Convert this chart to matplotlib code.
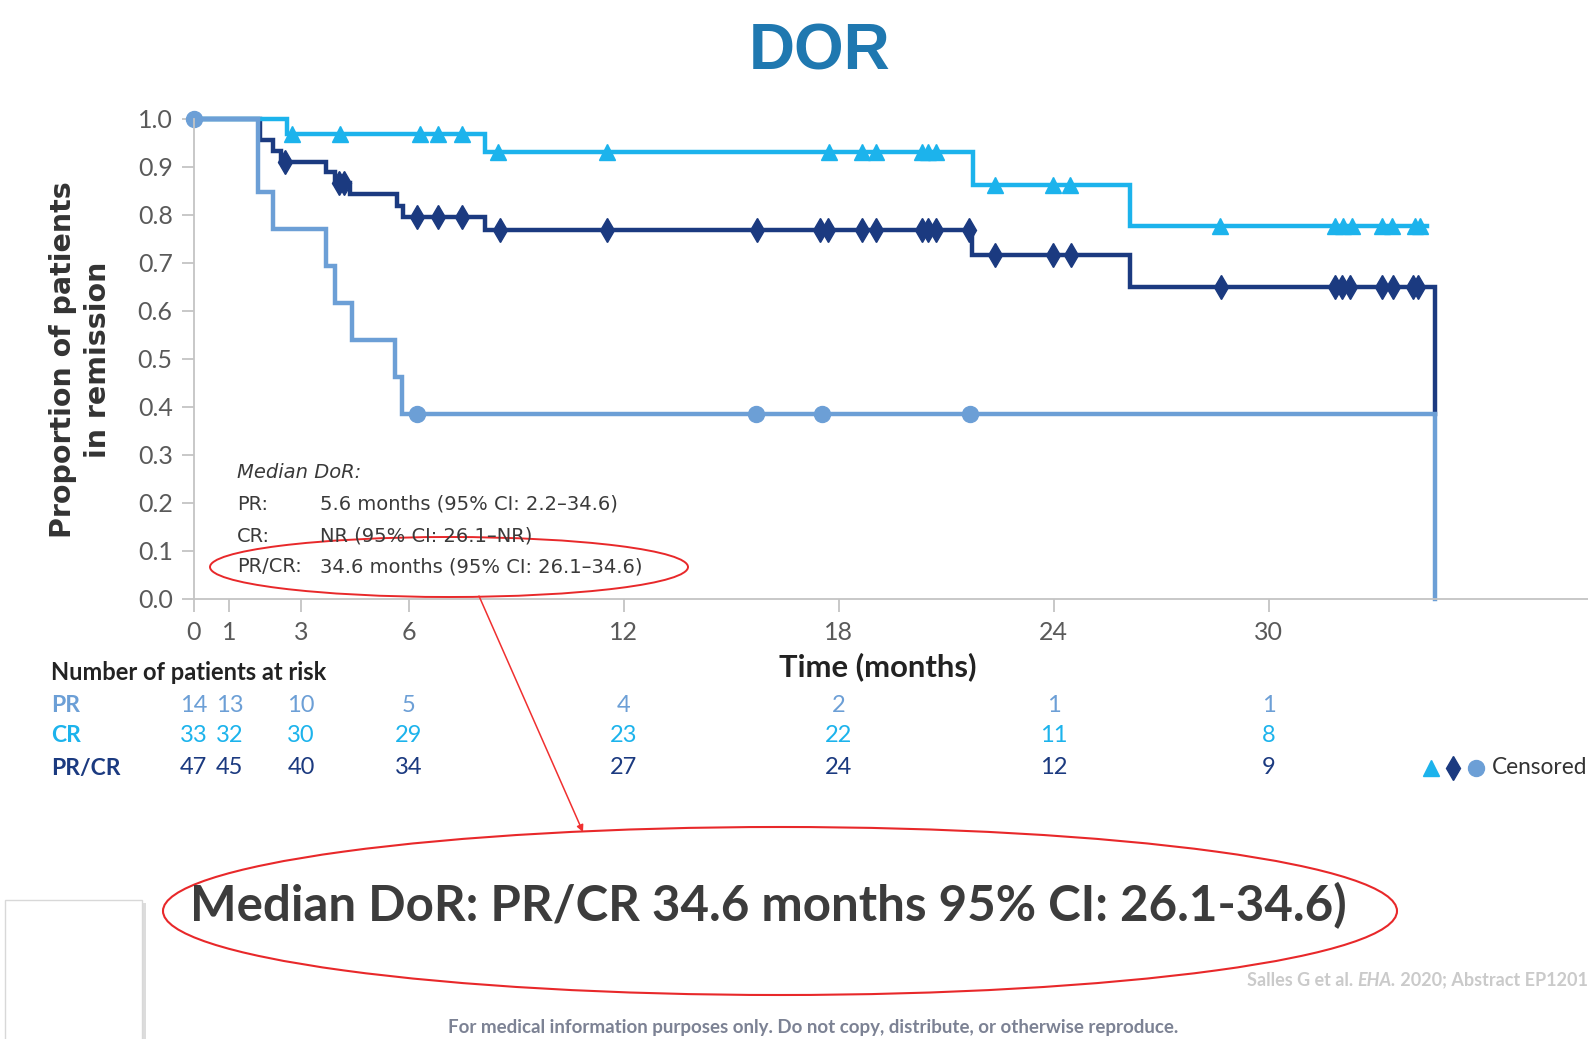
import numpy as np
import matplotlib
matplotlib.use('Agg')
import matplotlib.pyplot as plt
from matplotlib import transforms
from matplotlib.patches import Ellipse, Rectangle

# ---- data (months, proportion in remission) ----
pr_times = [0, 1.81, 2.23, 3.71, 3.95, 4.41, 5.62, 5.81, 34.63]
pr_surv = [1.0, 0.846, 0.769, 0.692, 0.615, 0.538, 0.462, 0.385, 0.0]
pr_end = 34.63
pr_censor = [0, 6.23, 15.7, 17.54, 21.67]

cr_times = [0, 2.62, 8.13, 21.75, 26.12]
cr_surv = [1.0, 0.967, 0.931, 0.861, 0.776]
cr_end = 34.4
cr_censor = [2.74, 4.09, 6.32, 6.83, 7.48, 8.5, 11.53, 17.73, 18.64, 19.03,
             20.31, 20.5, 20.7, 22.36, 23.97, 24.45, 28.63, 31.84, 32.07,
             32.31, 33.14, 33.42, 34.07, 34.21]

all_times = [0, 1.85, 2.23, 2.45, 3.71, 3.95, 4.37, 5.67, 5.85, 8.13, 21.73,
             26.12, 34.63]
all_surv = [1.0, 0.955, 0.932, 0.910, 0.888, 0.865, 0.842, 0.818, 0.795,
            0.768, 0.716, 0.650, 0.385]
all_end = 34.63
all_censor = [2.55, 4.05, 4.2, 6.23, 6.83, 7.48, 8.55, 11.53, 15.71, 17.48,
              17.71, 18.64, 19.03, 20.31, 20.5, 20.7, 21.64, 22.36, 23.97,
              24.47, 28.65, 31.84, 32.03, 32.26, 33.14, 33.47, 34.03, 34.17]

tick_months = [0, 1, 3, 6, 12, 18, 24, 30]
y_ticks = [0.0, 0.1, 0.2, 0.3, 0.4, 0.5, 0.6, 0.7, 0.8, 0.9, 1.0]
risk_labels = ['PR', 'CR', 'PR/CR']
risk_pr = [14, 13, 10, 5, 4, 2, 1, 1]
risk_cr = [33, 32, 30, 29, 23, 22, 11, 8]
risk_all = [47, 45, 40, 34, 27, 24, 12, 9]

C_PR = '#6c9fd6'
C_CR = '#1cb3ec'
C_ALL = '#1b3a80'
GREY_TXT = '#3a3a3a'
NARROW = 'Lato'
plt.rcParams['font.family'] = ['DejaVu Sans']


def step_at(times, surv, t):
    i = np.searchsorted(times, t, side='right') - 1
    return surv[i]


W, H = 1588, 1039
fig = plt.figure(figsize=(W / 100, H / 100), dpi=100)
ax = fig.add_axes([193.5 / W, 1 - 598.5 / H, (W - 193.5) / W, 480 / H])
ax.set_xlim(0, 38.9)
ax.set_ylim(0, 1.0)

curves = [
    (all_times, all_surv, all_end, all_censor, C_ALL, 'd', 12),
    (cr_times, cr_surv, cr_end, cr_censor, C_CR, '^', 11),
    (pr_times, pr_surv, pr_end, pr_censor, C_PR, 'o', 11.5),
]
for times, surv, end, cens, col, mk, ms in curves:
    xs = list(times) + [end]
    ys = list(surv) + [surv[-1]]
    ax.plot(xs, ys, drawstyle='steps-post', color=col, lw=3.2, clip_on=False,
            solid_joinstyle='miter')
    cy = [step_at(times, surv, c) for c in cens]
    ax.plot(cens, cy, ls='none', marker=mk, ms=ms, color=col, mec=col,
            clip_on=False)

for s in ['top', 'right']:
    ax.spines[s].set_visible(False)
for s in ['left', 'bottom']:
    ax.spines[s].set_color('#c4c4c4')
    ax.spines[s].set_linewidth(1.3)
ax.set_xticks(tick_months)
ax.set_yticks(y_ticks)
ax.set_yticklabels([f'{v:.1f}' for v in y_ticks])
ax.tick_params(axis='both', colors='#c4c4c4', labelcolor='#5a5a5a',
               labelsize=18, length=9, width=1.3)
ax.tick_params(axis='x', pad=7)
ax.tick_params(axis='y', pad=6)
for lab in ax.get_xticklabels() + ax.get_yticklabels():
    lab.set_family(NARROW)

# overlay in pixel coordinates (y downwards)
ov = fig.add_axes([0, 0, 1, 1])
ov.set_xlim(0, W)
ov.set_ylim(H, 0)
ov.axis('off')
ov.patch.set_alpha(0)

fig.text(820 / W, 1 - 52 / H, 'DOR', ha='center', va='center', fontsize=46,
         fontweight='bold', color='#1f78b0', family='Liberation Sans')

ov.text(63, 360, 'Proportion of patients', rotation=90, ha='center',
        va='center', fontsize=20.5, fontweight='bold', color='#333333')
ov.text(98, 360, 'in remission', rotation=90, ha='center', va='center',
        fontsize=20.5, fontweight='bold', color='#333333')
ov.text(878, 667, 'Time (months)', ha='center', va='center', fontsize=22.3,
        color='#222222', family=NARROW, fontweight='bold')

# median block
med_y = [473, 504, 536, 567]
ov.text(237, med_y[0], 'Median DoR:', style='italic', fontsize=14,
        color=GREY_TXT, va='center')
for lab, val, y in zip(['PR:', 'CR:', 'PR/CR:'],
                       ['5.6 months (95% CI: 2.2\u201334.6)',
                        'NR (95% CI: 26.1\u2013NR)',
                        '34.6 months (95% CI: 26.1\u201334.6)'], med_y[1:]):
    ov.text(237, y, lab, fontsize=14, color=GREY_TXT, va='center')
    ov.text(320, y, val, fontsize=14, color=GREY_TXT, va='center')

ov.add_patch(Ellipse((449, 567), 478, 60, fill=False, ec='#e8282a', lw=1.4))
ov.annotate('', xy=(583, 832), xytext=(479, 596),
            arrowprops=dict(arrowstyle='-|>', color='#f03030', lw=1.1,
                            mutation_scale=10, shrinkA=0, shrinkB=0))

# risk table
trans = transforms.blended_transform_factory(ax.transData, ov.transData)
ov.text(51, 673, 'Number of patients at risk', ha='left', va='center',
        fontsize=17, fontweight='bold', color='#222222', family=NARROW)
for lab, vals, col, y in zip(risk_labels, [risk_pr, risk_cr, risk_all],
                             [C_PR, C_CR, C_ALL], [705, 736, 768]):
    ov.text(51, y, lab, ha='left', va='center', fontsize=16.5, color=col,
            family=NARROW, fontweight='bold')
    for m, v in zip(tick_months, vals):
        ov.text(m, y, str(v), transform=trans, ha='center', va='center',
                fontsize=17, color=col, family=NARROW)

# censored key
for x, mk, col, ms in [(1431, '^', C_CR, 11), (1453, 'd', C_ALL, 12),
                       (1476, 'o', C_PR, 11.5)]:
    ov.plot([x], [768], marker=mk, color=col, ms=ms, ls='none')
ov.text(1492, 768, 'Censored', ha='left', va='center', fontsize=16.3,
        color='#333333', family=NARROW)

# zoomed callout
ov.add_patch(Ellipse((780, 911), 1234, 168, fill=False, ec='#e8282a', lw=1.5))
ov.text(768, 906, 'Median DoR: PR/CR 34.6 months 95% CI: 26.1-34.6)',
        ha='center', va='center', fontsize=35.5, fontweight='bold',
        color='#3c3c3c', family=NARROW)

# blank card bottom-left
ov.add_patch(Rectangle((8, 903), 138, 150, fc='#bbbbbb', ec='none', alpha=0.5))
ov.add_patch(Rectangle((5, 900), 137, 150, fc='white', ec='#d8d8d8', lw=1))

# citation and footer
t3 = ov.text(1588, 980, ' 2020; Abstract EP1201', ha='right', va='center',
             fontsize=13, fontweight='bold', color='#cacaca', family=NARROW)
t2 = ov.annotate('EHA.', xy=(0, 0.5), xycoords=t3, ha='right', va='center',
                 fontsize=13, fontweight='bold', style='italic',
                 color='#cacaca', family=NARROW)
ov.annotate('Salles G et al. ', xy=(0, 0.5), xycoords=t2, ha='right',
            va='center', fontsize=13, fontweight='bold', color='#cacaca',
            family=NARROW)
ov.text(813, 1027, 'For medical information purposes only. Do not copy, '
        'distribute, or otherwise reproduce.', ha='center', va='center',
        fontsize=13.5, fontweight='bold', color='#7c8294', family=NARROW)

fig.savefig('out.png', dpi=100)
